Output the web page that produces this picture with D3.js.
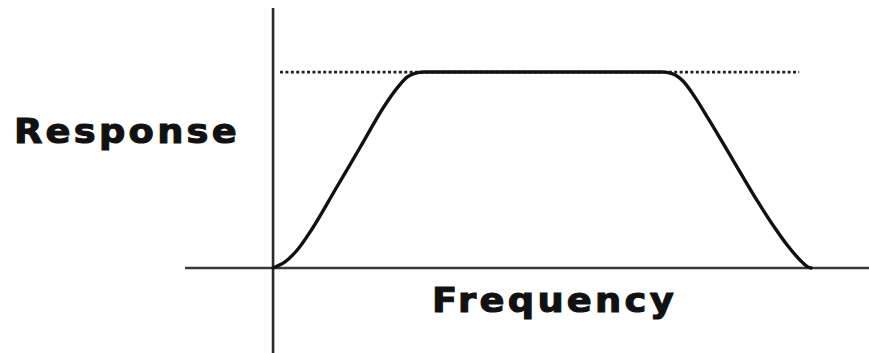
<!DOCTYPE html>
<html>
<head>
<meta charset="utf-8">
<script src="https://cdn.jsdelivr.net/npm/d3@7"></script>
<style>
  html, body { margin: 0; padding: 0; background: #fff; }
  svg { display: block; }
</style>
</head>
<body>
<svg id="chart" width="869" height="353"></svg>
<script>
// Band-pass response curve: frequency (arbitrary units) vs normalised response
const frequency = [0, 2.23, 4.66, 7.26, 11.55, 16.2, 20.86, 23.28, 24.95, 26.26, 28.12,
                   72.44, 74.30, 76.35, 78.58, 81.01, 85.66, 90.32, 93.48, 95.90, 98.14, 99.63, 100.2];
const response  = [0, 0.031, 0.097, 0.199, 0.398, 0.615, 0.832, 0.924, 0.974, 0.992, 1.0,
                   1.0, 0.992, 0.954, 0.872, 0.765, 0.551, 0.337, 0.204, 0.112, 0.041, 0.005, 0];

// Dotted reference level (full passband response)
const referenceLevel = [1.0];
const referenceSpan = [1.3, 98];

// Axis extents and titles
const xExtent = [-16.4, 111];
const yExtent = [-0.434, 1.327];
const axisTitles = ["Frequency", "Response"];

const svg = d3.select("#chart");
const W = 869, H = 353;

const x = d3.scaleLinear().domain(xExtent).range([185, W]);
const y = d3.scaleLinear().domain(yExtent).range([H, 8]);

// Axes
svg.append("line")
  .attr("x1", x(0)).attr("x2", x(0))
  .attr("y1", y(yExtent[0])).attr("y2", y(yExtent[1]))
  .attr("stroke", "#2a2a2a").attr("stroke-width", 2.6);

svg.append("line")
  .attr("x1", x(xExtent[0])).attr("x2", x(xExtent[1]))
  .attr("y1", y(0)).attr("y2", y(0))
  .attr("stroke", "#3a3a3a").attr("stroke-width", 2.6);

// Reference level
svg.selectAll(".ref")
  .data(referenceLevel)
  .join("line")
  .attr("class", "ref")
  .attr("x1", x(referenceSpan[0])).attr("x2", x(referenceSpan[1]))
  .attr("y1", d => y(d)).attr("y2", d => y(d))
  .attr("stroke", "#222").attr("stroke-width", 2.8)
  .attr("stroke-dasharray", "3,2.4");

// Response curve
const pts = frequency.map((f, i) => [f, response[i]]);
const line = d3.line()
  .x(d => x(d[0]))
  .y(d => y(d[1]))
  .curve(d3.curveMonotoneX);

svg.append("path")
  .datum(pts)
  .attr("d", line)
  .attr("fill", "none")
  .attr("stroke", "#111")
  .attr("stroke-width", 3.4)
  .attr("stroke-linejoin", "round")
  .attr("stroke-linecap", "round");

// Axis titles: heavy, widely tracked lettering
const titleStyle = sel => sel
  .attr("lengthAdjust", "spacingAndGlyphs")
  .attr("font-family", "DejaVu Sans")
  .attr("font-weight", "bold")
  .attr("font-size", 34)
  .attr("letter-spacing", 3)
  .attr("fill", "#111")
  .attr("stroke", "#111")
  .attr("stroke-width", 1.1);

svg.append("text")
  .attr("x", 432).attr("y", 312)
  .attr("textLength", 245)
  .call(titleStyle)
  .text(axisTitles[0]);

svg.append("text")
  .attr("x", 14).attr("y", 143)
  .attr("textLength", 226)
  .call(titleStyle)
  .text(axisTitles[1]);
</script>
</body>
</html>
